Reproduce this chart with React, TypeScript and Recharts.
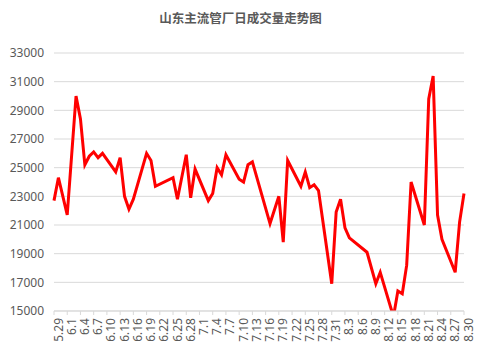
import { LineChart, Line, XAxis, YAxis, CartesianGrid } from 'recharts';

// Every calendar day on the axis (5.29 - 8.30)
const days = [
  '5.29', '5.30', '5.31',
  '6.1', '6.2', '6.3', '6.4', '6.5', '6.6', '6.7', '6.8', '6.9', '6.10',
  '6.11', '6.12', '6.13', '6.14', '6.15', '6.16', '6.17', '6.18', '6.19', '6.20',
  '6.21', '6.22', '6.23', '6.24', '6.25', '6.26', '6.27', '6.28', '6.29', '6.30',
  '7.1', '7.2', '7.3', '7.4', '7.5', '7.6', '7.7', '7.8', '7.9', '7.10',
  '7.11', '7.12', '7.13', '7.14', '7.15', '7.16', '7.17', '7.18', '7.19', '7.20',
  '7.21', '7.22', '7.23', '7.24', '7.25', '7.26', '7.27', '7.28', '7.29', '7.30', '7.31',
  '8.1', '8.2', '8.3', '8.4', '8.5', '8.6', '8.7', '8.8', '8.9', '8.10',
  '8.11', '8.12', '8.13', '8.14', '8.15', '8.16', '8.17', '8.18', '8.19', '8.20',
  '8.21', '8.22', '8.23', '8.24', '8.25', '8.26', '8.27', '8.28', '8.29', '8.30',
];

// Days that have a reading, and the volume on each
const pointDates = [
  '5.29', '5.30', '6.1', '6.3', '6.4', '6.5', '6.6', '6.7', '6.8', '6.9',
  '6.12', '6.13', '6.14', '6.15', '6.16', '6.19', '6.20', '6.21', '6.25', '6.26',
  '6.28', '6.29', '6.30', '7.3', '7.4', '7.5', '7.6', '7.7', '7.10', '7.11',
  '7.12', '7.13', '7.17', '7.19', '7.20', '7.21', '7.24', '7.25', '7.26', '7.27',
  '7.28', '7.31', '8.1', '8.2', '8.3', '8.4', '8.8', '8.10', '8.11', '8.14',
  '8.15', '8.16', '8.17', '8.18', '8.21', '8.22', '8.23', '8.24', '8.25', '8.28',
  '8.29', '8.30',
];
const volumes = [
  22700, 24300, 21700, 30000, 28400, 25200, 25800, 26100, 25700, 26000,
  24700, 25700, 23000, 22100, 22800, 26000, 25500, 23700, 24300, 22800,
  25900, 22900, 24900, 22700, 23200, 25000, 24500, 25900, 24200, 24000,
  25200, 25400, 21100, 23000, 19800, 25500, 23700, 24700, 23600, 23800,
  23400, 16900, 21900, 22800, 20800, 20100, 19100, 16900, 17700, 14600,
  16400, 16200, 18200, 24000, 21000, 29800, 31400, 21700, 20000, 17700,
  21200, 23200,
];

const yTicks = [15000, 17000, 19000, 21000, 23000, 25000, 27000, 29000, 31000, 33000];

const chartData = days.map(d => {
  const idx = pointDates.indexOf(d);
  return { date: d, value: idx >= 0 ? volumes[idx] : null };
});

const textColor = '#595959';
const gridColor = '#d9d9d9';

export default function App() {
  return (
    <div style={{ position: 'absolute', left: 0, top: 0, width: 481, height: 361, background: '#fff' }}>
      <div
        style={{
          position: 'absolute',
          top: 10,
          left: 0,
          width: 481,
          textAlign: 'center',
          fontFamily: '"Noto Sans CJK SC", sans-serif',
          fontSize: 12.5,
          fontWeight: 'bold',
          lineHeight: '16px',
          color: textColor,
        }}
      >
        山东主流管厂日成交量走势图
      </div>
      <LineChart
        width={481}
        height={361}
        data={chartData}
        margin={{ top: 53, right: 17, bottom: 0, left: 0 }}
        style={{ fontFamily: '"Noto Sans", sans-serif' }}
      >
        <CartesianGrid vertical={false} stroke={gridColor} />
        <XAxis
          dataKey="date"
          interval={2}
          angle={-90}
          textAnchor="end"
          height={50}
          tickSize={4}
          tickMargin={3}
          stroke={gridColor}
          tick={{ fill: textColor, fontSize: 12 }}
        />
        <YAxis
          width={54}
          domain={[15000, 33000]}
          ticks={yTicks}
          allowDataOverflow
          axisLine={false}
          tickLine={false}
          tickMargin={4}
          tick={{ fill: textColor, fontSize: 12 }}
        />
        <Line
          type="linear"
          dataKey="value"
          stroke="#ff0000"
          strokeWidth={3}
          dot={false}
          connectNulls
          isAnimationActive={false}
        />
      </LineChart>
    </div>
  );
}
